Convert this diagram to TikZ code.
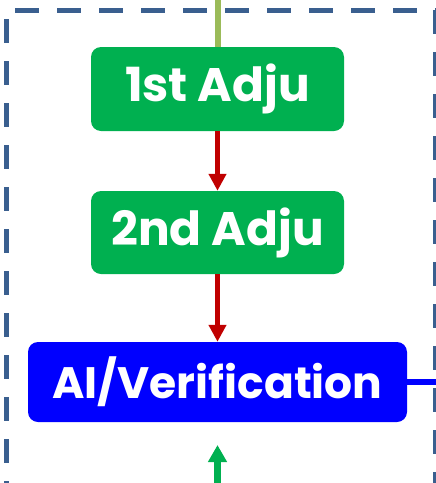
\documentclass[tikz,border=0pt]{standalone}
\usepackage{fontspec}
\setmainfont{Poppins}[BoldFont={* Bold}]
\usetikzlibrary{arrows.meta}
\definecolor{adjugreen}{HTML}{00B050}
\definecolor{feedgreen}{HTML}{9BBB59}
\definecolor{darkred}{HTML}{C00000}
\definecolor{frameblue}{HTML}{3A5F8F}

\begin{document}
\begin{tikzpicture}[x=1pt,y=-1pt,
  box/.style={rounded corners=10pt,text=white,font=\bfseries\fontsize{47}{50}\selectfont,inner sep=0pt},
  flow/.style={darkred,line width=5pt,-{Triangle[length=17pt,width=17pt]}},
  frame/.style={frameblue,line width=5pt,dash pattern=on 24pt off 18pt}]
\clip (0,0) rectangle (436,483);
% dashed frame
\draw[frame] (15,10) -- (436,10);
\draw[frame] (6.3,19) -- (6.3,490);
\draw[frame] (435.5,10) -- (435.5,490);
% boxes
\node[box,fill=adjugreen,minimum width=253pt,minimum height=84pt] (adju1) at (217.5,89) {1st Adju};
\node[box,fill=adjugreen,minimum width=253pt,minimum height=83pt] (adju2) at (217.5,232.5) {2nd Adju};
\node[box,fill=blue,minimum width=379pt,minimum height=80pt,font=\bfseries\fontsize{44}{48}\selectfont] (verif) at (217.5,382) {AI/Verification};
% links
\coordinate (intop) at (217.5,0);
\coordinate (outright) at (440,382);
\coordinate (inbot) at (217.5,490);
\coordinate (tipbot) at (217.5,445);
\draw[feedgreen,line width=6pt] (intop) -- (adju1.north);
\draw[flow] (adju1) -- (adju2);
\draw[flow] (adju2) -- (verif);
\draw[blue,line width=6pt] (verif.east) -- (outright);
\draw[adjugreen,line width=7pt,-{Triangle[length=17pt,width=18pt]}] (inbot) -- (tipbot);
\end{tikzpicture}
\end{document}
